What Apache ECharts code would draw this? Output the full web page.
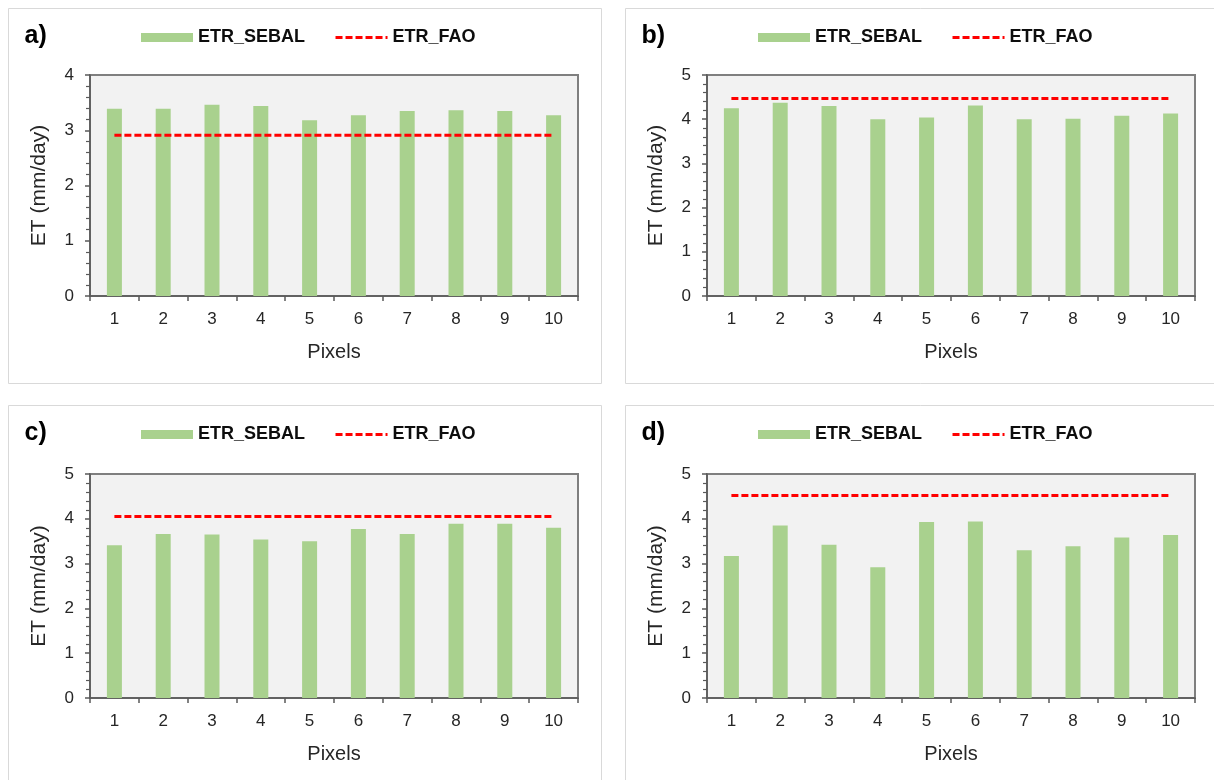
<!DOCTYPE html>
<html>
<head>
<meta charset="utf-8">
<script src="https://cdn.jsdelivr.net/npm/echarts@6/dist/echarts.min.js"></script>
<style>
html,body{margin:0;padding:0;background:#fff;}
#main{width:1214px;height:780px;}
</style>
</head>
<body>
<div id="main"></div>
<script>
// ---- data ----
const categories = ['1','2','3','4','5','6','7','8','9','10'];
const panelLabels = ['a)','b)','c)','d)'];
const sebalA = [3.39, 3.39, 3.46, 3.44, 3.18, 3.27, 3.35, 3.36, 3.35, 3.27];
const faoA   = [2.91, 2.91, 2.91, 2.91, 2.91, 2.91, 2.91, 2.91, 2.91, 2.91];
const sebalB = [4.25, 4.37, 4.30, 4.00, 4.04, 4.31, 4.00, 4.01, 4.08, 4.13];
const faoB   = [4.47, 4.47, 4.47, 4.47, 4.47, 4.47, 4.47, 4.47, 4.47, 4.47];
const sebalC = [3.41, 3.66, 3.65, 3.54, 3.50, 3.77, 3.66, 3.89, 3.89, 3.80];
const faoC   = [4.05, 4.05, 4.05, 4.05, 4.05, 4.05, 4.05, 4.05, 4.05, 4.05];
const sebalD = [3.17, 3.85, 3.42, 2.92, 3.93, 3.94, 3.30, 3.39, 3.58, 3.64];
const faoD   = [4.52, 4.52, 4.52, 4.52, 4.52, 4.52, 4.52, 4.52, 4.52, 4.52];
const yMaxes = [4, 5, 5, 5];
const yTicks = [0, 1, 2, 3, 4, 5];
const xAxisName = 'Pixels';
const yAxisName = 'ET (mm/day)';
const sebalName = 'ETR_SEBAL';
const faoName = 'ETR_FAO';

const sebalSets = [sebalA, sebalB, sebalC, sebalD];
const faoSets = [faoA, faoB, faoC, faoD];

// ---- layout ----
const FONT = "'Liberation Sans', Arial, sans-serif";
const panels = [
  {bx: 8.5,   by: 8.5,   bw: 593, bh: 375, gl: 90,  gt: 75,  gh: 221},
  {bx: 625.5, by: 8.5,   bw: 600, bh: 375, gl: 707, gt: 75,  gh: 221},
  {bx: 8.5,   by: 405.5, bw: 593, bh: 400, gl: 90,  gt: 474, gh: 224},
  {bx: 625.5, by: 405.5, bw: 600, bh: 400, gl: 707, gt: 474, gh: 224}
];
const GW = 488;

const chart = echarts.init(document.getElementById('main'));
const grid = [], xAxis = [], yAxis = [], series = [], title = [], legend = [], graphic = [];

panels.forEach((p, i) => {
  graphic.push({
    type: 'rect', z: -10, silent: true,
    shape: {x: p.bx, y: p.by, width: p.bw, height: p.bh},
    style: {fill: '#fff', stroke: '#d9d9d9', lineWidth: 1}
  });
  grid.push({
    left: p.gl, top: p.gt, width: GW, height: p.gh,
    show: true, backgroundColor: '#f2f2f2', borderColor: '#7f7f7f', borderWidth: 2,
    containLabel: false, outerBoundsMode: 'none'
  });
  xAxis.push({
    type: 'category', gridIndex: i, data: categories, boundaryGap: true,
    name: xAxisName, nameLocation: 'middle', nameGap: 46,
    nameTextStyle: {fontFamily: FONT, fontSize: 20, color: '#262626'},
    axisLine: {lineStyle: {color: '#595959', width: 1.5}},
    axisTick: {show: true, length: 5, alignWithLabel: false, lineStyle: {color: '#595959', width: 1.5}},
    axisLabel: {fontFamily: FONT, fontSize: 17, color: '#262626', margin: 15},
    splitLine: {show: false}
  });
  yAxis.push({
    type: 'value', gridIndex: i, min: yTicks[0], max: yMaxes[i], interval: 1,
    name: yAxisName, nameLocation: 'middle', nameGap: 40, nameRotate: 90,
    nameTextStyle: {fontFamily: FONT, fontSize: 21, color: '#262626'},
    axisLine: {show: true, lineStyle: {color: '#595959', width: 1.5}},
    axisTick: {show: true, length: 5, lineStyle: {color: '#595959', width: 1.5}},
    minorTick: {show: true, splitNumber: 5, length: 4, lineStyle: {color: '#595959', width: 1.2}},
    axisLabel: {fontFamily: FONT, fontSize: 17, color: '#262626', margin: 16},
    splitLine: {show: false}
  });
  series.push({
    name: sebalName, type: 'bar', xAxisIndex: i, yAxisIndex: i,
    data: sebalSets[i], barWidth: 15,
    itemStyle: {color: '#a9d18e'}, emphasis: {disabled: true}
  });
  series.push({
    name: faoName, type: 'line', xAxisIndex: i, yAxisIndex: i,
    data: faoSets[i], symbol: 'none', z: 5,
    lineStyle: {color: '#ff0000', width: 3, type: [7, 3]},
    itemStyle: {color: '#ff0000'}, emphasis: {disabled: true}
  });
  title.push({
    text: panelLabels[i], left: p.bx + 11, top: p.by + 10,
    textStyle: {fontFamily: FONT, fontSize: 25, fontWeight: 'bold', color: '#000'}
  });
  legend.push({
    left: p.bx + 127.5, top: p.by + 15,
    itemWidth: 52, itemHeight: 9, itemGap: 29,
    textStyle: {fontFamily: FONT, fontSize: 18, fontWeight: 'bold', color: '#0d0d0d'},
    data: [
      {name: sebalName, icon: 'rect'},
      {name: faoName, itemStyle: {opacity: 0}, lineStyle: {width: 3, color: '#ff0000', type: [7, 3]}}
    ],
    selectedMode: false
  });
});

chart.setOption({
  animation: false,
  backgroundColor: '#fff',
  graphic: graphic,
  title: title,
  legend: legend,
  grid: grid,
  xAxis: xAxis,
  yAxis: yAxis,
  series: series
});
</script>
</body>
</html>
